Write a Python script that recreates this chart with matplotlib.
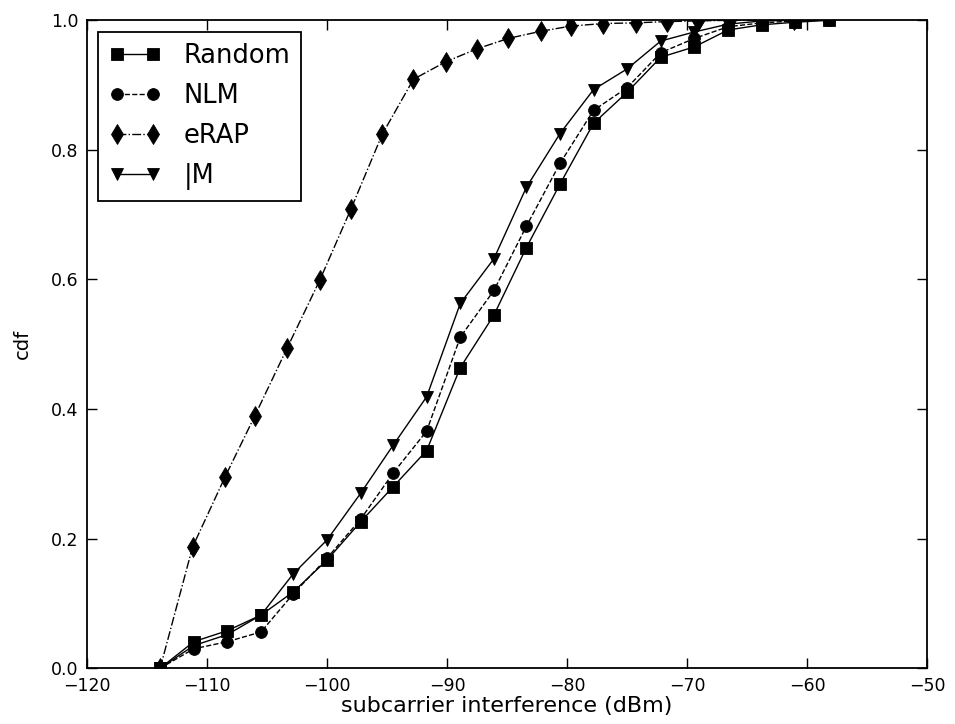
import numpy as np
import matplotlib
matplotlib.use("Agg")
import matplotlib.pyplot as plt

# x positions (dBm) for Random / NLM / IM
x_main = [-113.9, -111.1, -108.3, -105.5, -102.8, -100.0, -97.2, -94.5, -91.7,
          -88.9, -86.1, -83.4, -80.6, -77.8, -75.0, -72.2, -69.4, -66.6,
          -63.8, -61.0, -58.2]

random_cdf = [0.0, 0.041, 0.058, 0.082, 0.118, 0.167, 0.226, 0.280, 0.336,
              0.464, 0.545, 0.649, 0.747, 0.841, 0.889, 0.943, 0.959, 0.985,
              0.993, 0.997, 1.0]
nlm_cdf = [0.0, 0.030, 0.041, 0.056, 0.115, 0.170, 0.230, 0.301, 0.366,
           0.511, 0.583, 0.682, 0.779, 0.861, 0.896, 0.950, 0.972, 0.990,
           0.996, 0.999, 1.0]
im_cdf = [0.0, 0.035, 0.052, 0.082, 0.146, 0.198, 0.270, 0.344, 0.419,
          0.563, 0.632, 0.742, 0.825, 0.893, 0.925, 0.968, 0.982, 0.994,
          0.999, 1.0, 1.0]

# eRAP uses its own x grid
x_erap = [-113.9, -111.2, -108.5, -106.0, -103.3, -100.6, -98.0, -95.4, -92.8,
          -90.1, -87.5, -84.9, -82.2, -79.7, -77.0, -74.3, -71.7, -69.1,
          -66.4, -63.8, -61.1]
erap_cdf = [0.0, 0.187, 0.295, 0.390, 0.495, 0.599, 0.709, 0.824, 0.909,
            0.936, 0.956, 0.972, 0.983, 0.991, 0.995, 0.996, 0.998, 0.999,
            1.0, 1.0, 1.0]

fig = plt.figure(figsize=(9.55, 7.24), dpi=100)
ax = fig.add_axes([0.091, 0.077, 0.88, 0.895])

lw = 1.0
ms = 9
mew = 0.6
ax.plot(x_main, random_cdf, color='black', lw=lw, ls='-', marker='s', ms=ms,
        mew=mew, label='Random')
ax.plot(x_main, nlm_cdf, color='black', lw=lw, ls='--', marker='o', ms=ms - 0.5,
        mew=mew, label='NLM')
ax.plot(x_erap, erap_cdf, color='black', lw=lw, ls='-.', marker='d', ms=ms + 1,
        mew=mew, label='eRAP')
ax.plot(x_main, im_cdf, color='black', lw=lw, ls='-', marker='v', ms=ms,
        mew=mew, label='|M')

ax.set_xlim(-120, -50)
ax.set_ylim(0, 1.0)
ax.set_xticks(np.arange(-120, -49, 10))
ax.set_yticks(np.arange(0, 1.01, 0.2))
ax.tick_params(direction='in', top=True, right=True, length=7, width=1,
               labelsize=12.5, pad=6)
for s in ax.spines.values():
    s.set_linewidth(1.3)

ax.set_xlabel('subcarrier interference (dBm)', fontsize=16, labelpad=1)
ax.set_ylabel('cdf', fontsize=14, labelpad=14)

leg = ax.legend(loc='upper left', numpoints=2, fontsize=18.5, fancybox=False,
                framealpha=1, edgecolor='black', handlelength=2.0,
                borderpad=0.42, labelspacing=0.55, handletextpad=0.9,
                borderaxespad=0.45)
leg.get_frame().set_linewidth(1.3)

fig.savefig('out.png', dpi=100)
